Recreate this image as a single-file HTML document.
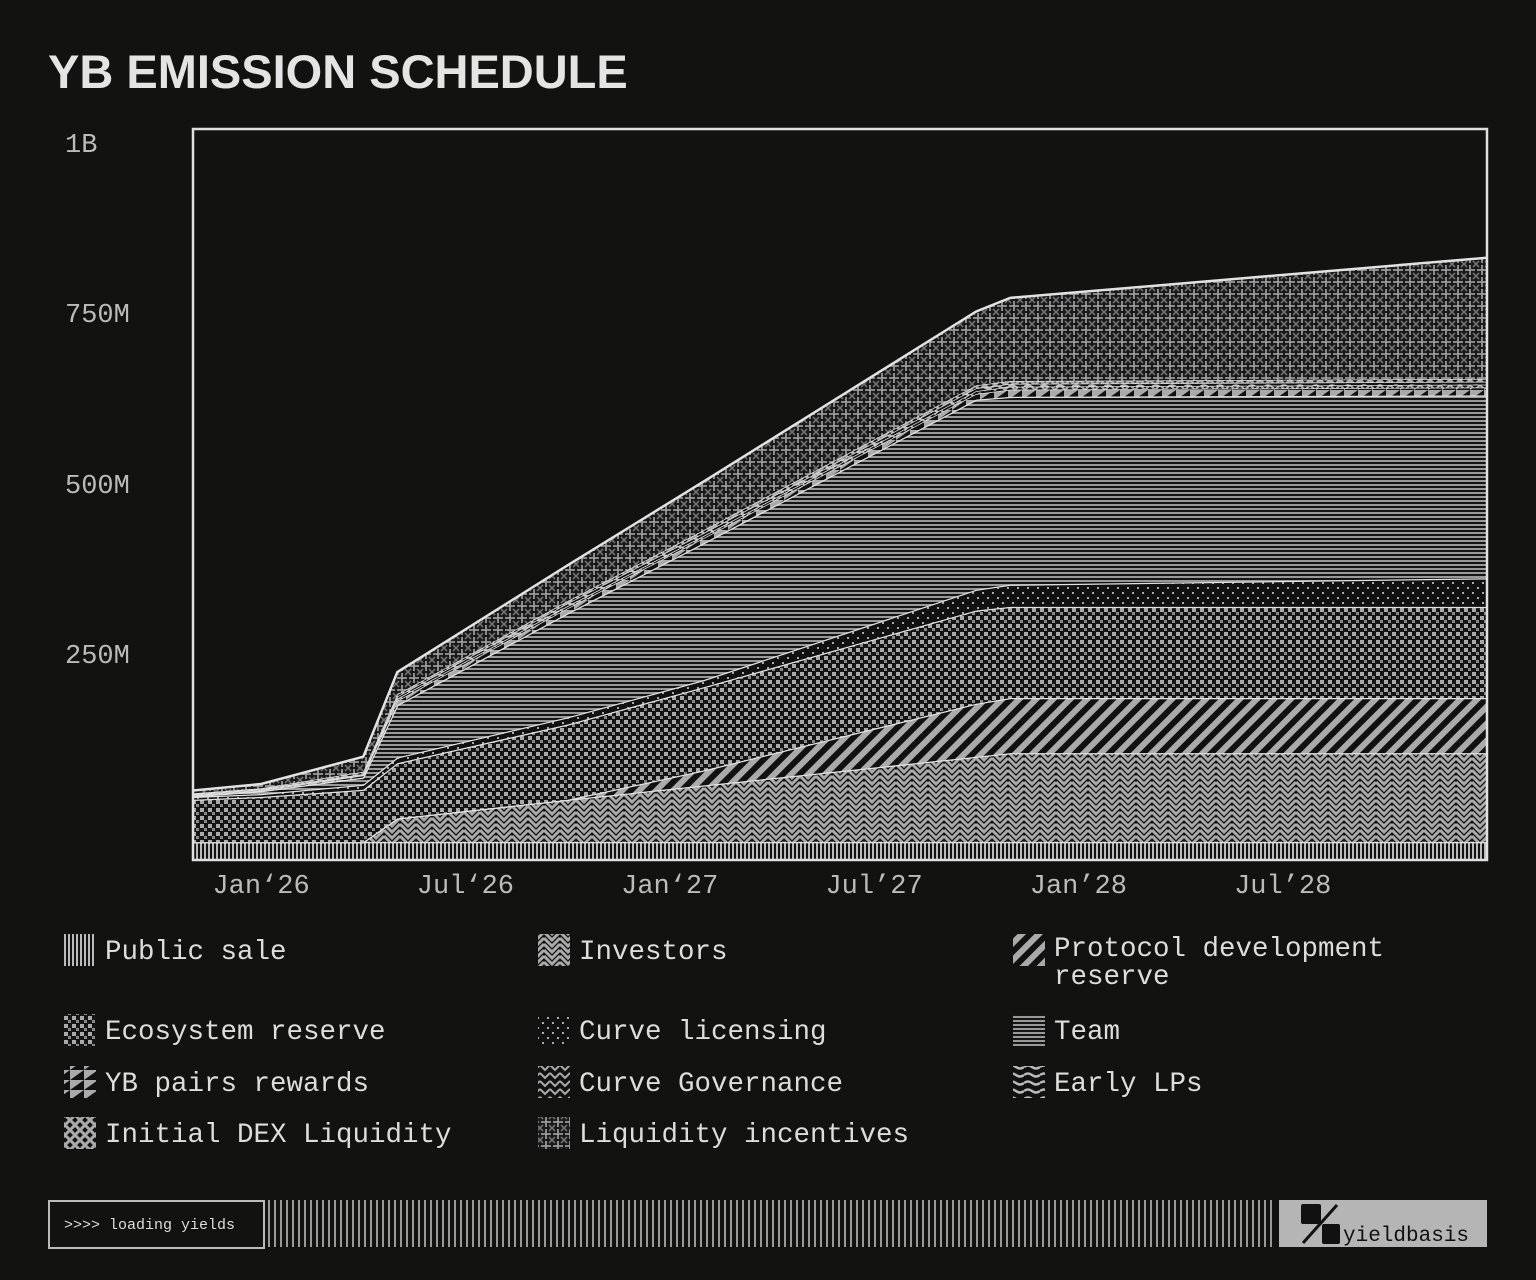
<!DOCTYPE html>
<html><head><meta charset="utf-8"><style>
body{margin:0;background:#121211;width:1536px;height:1280px;overflow:hidden;position:relative;font-family:"Liberation Mono",monospace;color:#ddd}
.title{position:absolute;left:48px;top:44px;font:bold 47px "Liberation Sans",sans-serif;color:#e4e4e4;letter-spacing:0px}
.leg{position:absolute;font-size:27.5px;line-height:28px;color:#ddd}
.foot{position:absolute;left:48px;top:1200px;width:213px;height:45px;border:2px solid #bbb;box-sizing:content-box;font-size:15px;color:#ddd;line-height:47px;text-indent:14px}
</style></head><body>
<div class="title">YB EMISSION SCHEDULE</div>
<svg id="chart" width="1536" height="1280" style="position:absolute;left:0;top:0">
<defs>
<pattern id="p0" width="4" height="4" patternUnits="userSpaceOnUse"><rect width="4" height="4" fill="#111"/><rect width="2" height="4" fill="#bbb"/></pattern>
<pattern id="p1" width="16" height="12" patternUnits="userSpaceOnUse"><rect width="16" height="12" fill="#111"/><path d="M0 2 L8 10 L16 2 M0 -4 L8 4 L16 -4 M0 8 L8 16 L16 8" stroke="#aaa" stroke-width="3" fill="none"/></pattern>
<pattern id="p2" width="12" height="12" patternUnits="userSpaceOnUse" patternTransform="rotate(45)"><rect width="12" height="12" fill="#111"/><rect width="6" height="12" fill="#aaa"/></pattern>
<pattern id="p3" width="8" height="8" patternUnits="userSpaceOnUse"><rect width="8" height="8" fill="#151515"/><rect width="4" height="4" fill="#aaa"/><rect x="4" y="4" width="3" height="3" fill="#888"/></pattern>
<pattern id="p4" width="10" height="10" patternUnits="userSpaceOnUse"><rect width="10" height="10" fill="#111"/><rect x="2" y="2" width="2" height="2" fill="#aaa"/><rect x="7" y="7" width="2" height="2" fill="#aaa"/></pattern>
<pattern id="p5" width="4" height="4" patternUnits="userSpaceOnUse"><rect width="4" height="4" fill="#151515"/><rect width="4" height="2" fill="#999"/></pattern>
<pattern id="p6" width="14" height="10" patternUnits="userSpaceOnUse"><rect width="14" height="10" fill="#aaa"/><path d="M0 10 L14 0 L14 10Z" fill="#111"/></pattern>
<pattern id="p7" width="10" height="8" patternUnits="userSpaceOnUse"><rect width="10" height="8" fill="#111"/><path d="M0 1 L5 6 L10 1" stroke="#aaa" stroke-width="2" fill="none"/></pattern>
<pattern id="p8" width="16" height="8" patternUnits="userSpaceOnUse"><rect width="16" height="8" fill="#111"/><path d="M0 3 Q4 0 8 3 T16 3" stroke="#bbb" stroke-width="2.5" fill="none"/></pattern>
<pattern id="p9" width="10" height="10" patternUnits="userSpaceOnUse"><rect width="10" height="10" fill="#111"/><path d="M0 0L10 10M10 0L0 10" stroke="#aaa" stroke-width="3"/></pattern>
<pattern id="p10" width="12" height="12" patternUnits="userSpaceOnUse"><rect width="12" height="12" fill="#1a1a1a"/><path d="M6 1V11M1 6H11" stroke="#999" stroke-width="1.8"/><path d="M0 0L3 3M12 0L9 3M0 12L3 9M12 12L9 9" stroke="#777" stroke-width="1.5"/></pattern>
</defs>
<g id="layers"></g>
<rect x="193" y="129" width="1294" height="731" fill="none" stroke="#e0e0e0" stroke-width="2.5"/>
<g id="axes" font-family="Liberation Mono, monospace" font-size="27" fill="#bbb"></g>
<g id="footer"></g>
</svg>
<div class="foot">&gt;&gt;&gt;&gt; loading yields</div>
<div>
<div class="leg" style="left:105px;top:939px">Public sale</div>
<div class="leg" style="left:579px;top:939px">Investors</div>
<div class="leg" style="left:1054px;top:936px">Protocol development<br>reserve</div>
<div class="leg" style="left:105px;top:1019px">Ecosystem reserve</div>
<div class="leg" style="left:579px;top:1019px">Curve licensing</div>
<div class="leg" style="left:1054px;top:1019px">Team</div>
<div class="leg" style="left:105px;top:1071px">YB pairs rewards</div>
<div class="leg" style="left:579px;top:1071px">Curve Governance</div>
<div class="leg" style="left:1054px;top:1071px">Early LPs</div>
<div class="leg" style="left:105px;top:1122px">Initial DEX Liquidity</div>
<div class="leg" style="left:579px;top:1122px">Liquidity incentives</div>
</div>
<script>
const months = [-2, 0, 3, 4, 9, 13, 21, 22, 36];
const publicSale = [25,25,25,25,25,25,25,25,25];
const investors = [0,0,0,33,59,79,119,124,124];
const protocolReserve = [0,0,0,0,0,21,74,77,77];
const ecosystemReserve = [59,63,73,77,105,116,130,127,127];
const curveLicensing = [4,4,7,8,10,10,29,31,40];
const team = [1,4,10,73,145,191,265,262,255];
const ybPairs = [1,1,3,6,7,7,8,10,11];
const curveGov = [1,1,1,3,3,3,4,4,4];
const earlyLPs = [1,1,1,3,4,4,4,4,4];
const initialDex = [1,1,3,3,3,4,4,4,4];
const liquidityIncentives = [4,6,21,31,50,68,103,116,169];
const yTickValues = [1000, 750, 500, 250];
const yTickLabels = ["1B","750M","500M","250M"];
const xTickMonths = [0, 6, 12, 18, 24, 30];
const xTickLabels = ["Jan\u201826","Jul\u201826","Jan\u201827","Jul\u201927","Jan\u201928","Jul\u201928"];

const NS="http://www.w3.org/2000/svg";
const xS = m => 193 + (m + 2) * (1294 / 38);
const yS = v => 860 - v * 0.717;
const series=[publicSale,investors,protocolReserve,ecosystemReserve,curveLicensing,team,ybPairs,curveGov,earlyLPs,initialDex,liquidityIncentives];
const names=["public-sale","investors","protocol-development-reserve","ecosystem-reserve","curve-licensing","team","yb-pairs-rewards","curve-governance","early-lps","initial-dex-liquidity","liquidity-incentives"];
const g=document.getElementById('layers');
let base=months.map(()=>0);
series.forEach((s,i)=>{
  const top=base.map((b,j)=>b+s[j]);
  let d='M'+months.map((m,j)=>xS(m)+','+yS(top[j])).join('L');
  for(let j=months.length-1;j>=0;j--) d+='L'+xS(months[j])+','+yS(base[j]);
  const p=document.createElementNS(NS,'path');
  p.setAttribute('d',d+'Z');p.setAttribute('fill','url(#p'+i+')');
  
  
  g.appendChild(p);
  const l=document.createElementNS(NS,'path');
  l.setAttribute('d','M'+months.map((m,j)=>xS(m)+','+yS(top[j])).join('L'));
  l.setAttribute('stroke','#e2e2e2');l.setAttribute('stroke-width',i>5&&i<10?'1.5':'2.5');l.setAttribute('fill','none');
  
  
  g.appendChild(l);
  base=top;
});
const ax=document.getElementById('axes');
const ylabelY=[143,313,484,654];
yTickValues.forEach((v,i)=>{
  const t=document.createElementNS(NS,'text');
  t.setAttribute('x',65);t.setAttribute('y',ylabelY[i]+9);t.textContent=yTickLabels[i];
  
  
  ax.appendChild(t);
});
xTickMonths.forEach((m,i)=>{
  const t=document.createElementNS(NS,'text');
  t.setAttribute('x',xS(m));t.setAttribute('y',893);t.setAttribute('text-anchor','middle');t.textContent=xTickLabels[i];
  
  
  ax.appendChild(t);
});
const ic=[[64,934,0],[538,934,1],[1013,934,2],[64,1014,3],[538,1014,4],[1013,1014,5],[64,1066,6],[538,1066,7],[1013,1066,8],[64,1117,9],[538,1117,10]];
ic.forEach(([x,y,i])=>{
  const r=document.createElementNS(NS,'rect');
  r.setAttribute('x',x);r.setAttribute('y',y);r.setAttribute('width',32);r.setAttribute('height',32);r.setAttribute('fill','url(#p'+i+')');
  
  
  ax.appendChild(r);
});
const f=document.getElementById('footer');
for(let x=268;x<1276;x+=6){
  const r=document.createElementNS(NS,'rect');
  r.setAttribute('x',x);r.setAttribute('y',1200);r.setAttribute('width',2);r.setAttribute('height',47);r.setAttribute('fill','#999');
  
  
  f.appendChild(r);
}
f.insertAdjacentHTML('beforeend','<g><rect x="1279" y="1200" width="208" height="47" fill="#b5b5b5"/><rect x="1301" y="1204" width="20" height="20" rx="2" fill="#111"/><rect x="1322" y="1224" width="18" height="20" rx="2" fill="#111"/><path d="M1337 1205 L1303 1243" stroke="#111" stroke-width="3"/><text x="1343" y="1241" font-family="Liberation Mono, monospace" font-size="21" fill="#111">yieldbasis</text></g>');
</script>
</body></html>
